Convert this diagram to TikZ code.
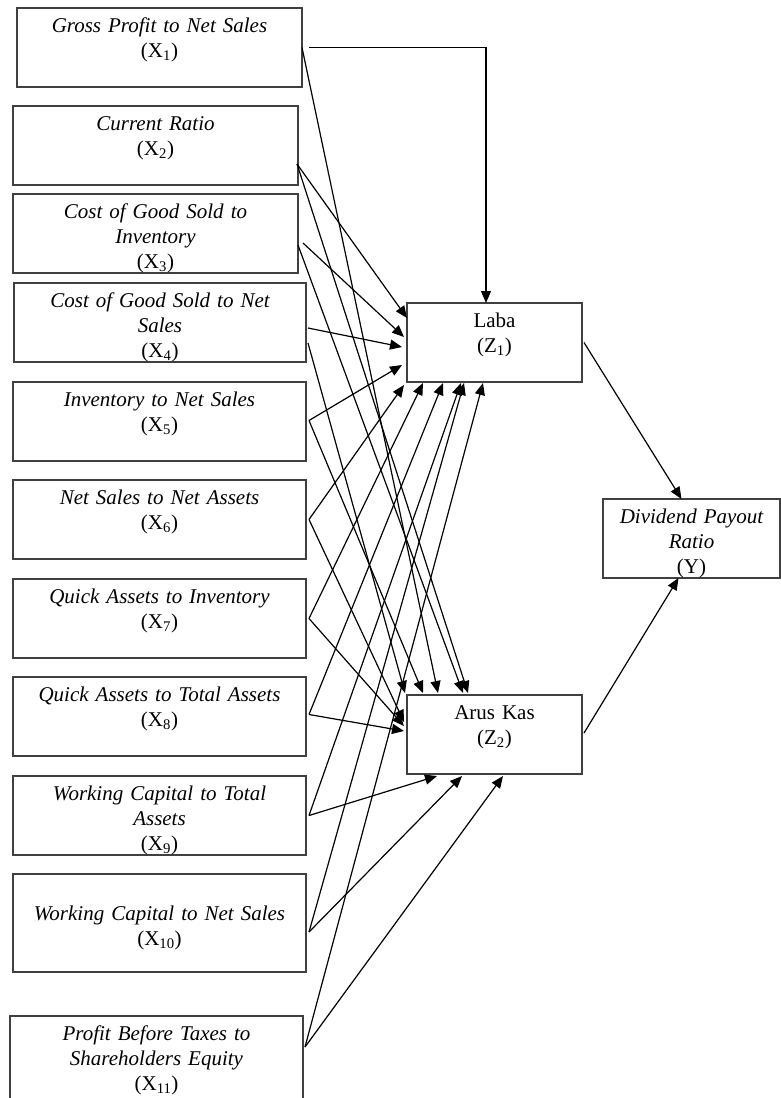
\documentclass[tikz,border=0pt]{standalone}
\usepackage{fontspec}
\setmainfont{Liberation Serif}
\usepackage{tikz}
\usetikzlibrary{positioning, calc, arrows.meta}

\newcommand{\vx}[1]{\textup{(X\textsubscript{#1})}}

\begin{document}
\begin{tikzpicture}[x=1pt, y=1pt, node distance=19pt,
	xbox/.style={draw=black!75, line width=1.4pt, text width=#1, align=center, inner sep=4pt, outer sep=0pt,
		text height=20pt, text depth=51pt, font=\fontsize{21}{25}\selectfont\itshape},
	zbox/.style={xbox=#1, font=\fontsize{21}{25}\selectfont\upshape},
	arr/.style={-{Triangle[length=12pt,width=10pt]}, line width=1.2pt}]
	\useasboundingbox (0,0) rectangle (781,-1098);
	% left column
	\node[xbox=277] (x1) at (159.5,-47.5) {Gross Profit to Net Sales\\\vx{1}};
	\node[xbox=277, below=of x1, xshift=-4pt] (x2) {Current Ratio\\\vx{2}};
	\node[xbox=277, below=9pt of x2] (x3) {Cost of Good Sold to\\Inventory\\\vx{3}};
	\node[xbox=284, below=10pt of x3, xshift=4.5pt] (x4) {Cost of Good Sold to Net\\Sales\\\vx{4}};
	\node[xbox=285, below=20pt of x4, xshift=-0.5pt] (x5) {Inventory to Net Sales\\\vx{5}};
	\node[xbox=285, below=of x5] (x6) {Net Sales to Net Assets\\\vx{6}};
	\node[xbox=285, below=20pt of x6] (x7) {Quick Assets to Inventory\\\vx{7}};
	\node[xbox=285, below=of x7] (x8) {Quick Assets to Total Assets\\\vx{8}};
	\node[xbox=285, below=20pt of x8] (x9) {Working Capital to Total\\Assets\\\vx{9}};
	\node[xbox=285, below=of x9, text height=42pt, text depth=48pt] (x10) {Working Capital to Net Sales\\\vx{10}};
	\node[xbox=285, below=44pt of x10, xshift=-3pt, text depth=60pt] (x11) {Profit Before Taxes to\\Shareholders Equity\\\vx{11}};
	% intervening and dependent
	\node[zbox=167] (laba) at (494.5,-342.5) {Laba\\(Z\textsubscript{1})};
	\node[zbox=167, below=313pt of laba] (arus) {Arus Kas\\(Z\textsubscript{2})};
	\node[xbox=169] (dpr) at (691.5,-538.5) {Dividend Payout\\Ratio\\\textup{(Y)}};
	% paths
	\draw[arr] ($(x1.east)+(7,0)$) -| ($(laba.north west)+(79,0)$);
	\foreach \s/\sx/\sy/\ex/\ey in {x2/-1/-18.5/0/-15, x3/5/-9.5/-3/-34, x4/2/-5.5/-5/-44, x5/3/1/-5/-62,
		x6/3/0/-3/-82, x7/3/0/16/-80, x8/3/2/36/-80, x9/3/0/54/-80, x10/3/-9/57/-80, x11/2/13/76/-80}
		\draw[arr] ($(\s.east)+(\sx,\sy)$) -- ($(laba.north west)+(\ex,\ey)$);
	\foreach \s/\sx/\sy/\ex/\ey in {x1/0/0/31/2, x2/-1/-18.5/61/2, x3/0/-11.5/56/2, x4/2/-20.5/-2/2, x5/3/1/16/2,
		x6/3/0/-3/-27, x7/3/0/-3/-31, x8/3/2/-3/-36, x9/3/0/30/-81, x10/3/-9/55/-81, x11/2/13/96/-81}
		\draw[arr] ($(\s.east)+(\sx,\sy)$) -- ($(arus.north west)+(\ex,\ey)$);
	\draw[arr] ($(laba.east)+(2,0)$) -- ($(dpr.north)+(-10,0)$);
	\draw[arr] ($(arus.east)+(2,1.5)$) -- ($(dpr.south)+(-13,0)$);
\end{tikzpicture}
\end{document}
